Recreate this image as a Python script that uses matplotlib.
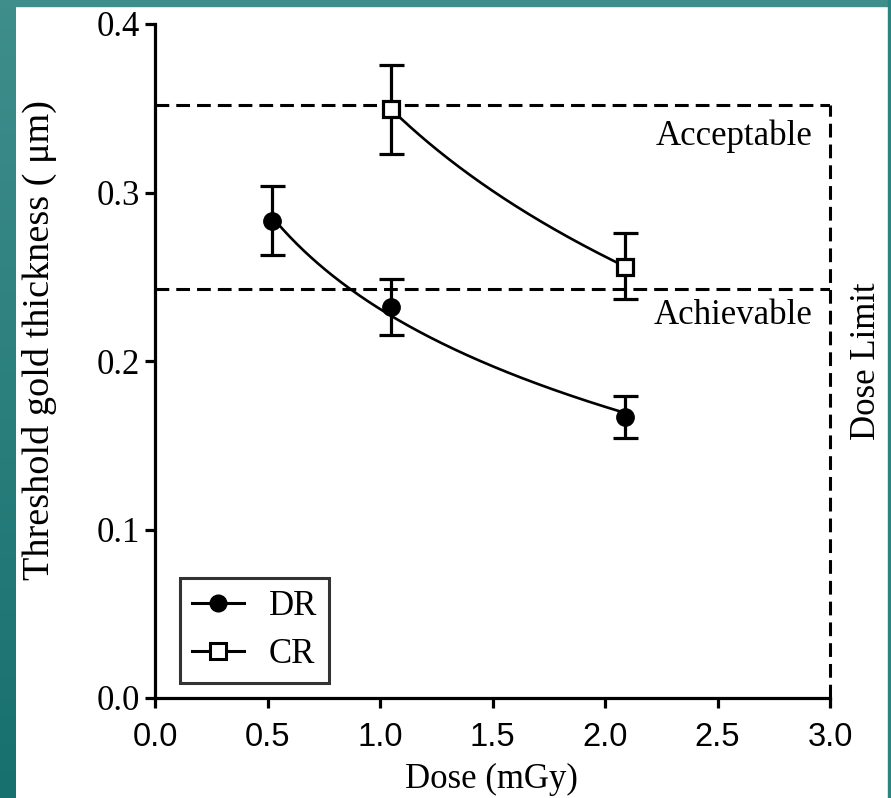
import numpy as np
import matplotlib
matplotlib.use("Agg")
import matplotlib.pyplot as plt
from matplotlib.lines import Line2D

# datos
dosis_dr = [0.52, 1.05, 2.09]
grosor_dr = [0.283, 0.232, 0.1665]
err_dr_sup = [0.304, 0.2485, 0.179]
err_dr_inf = [0.263, 0.2155, 0.1545]

dosis_cr = [1.05, 2.09]
grosor_cr = [0.3494, 0.256]
err_cr_sup = [0.3755, 0.276]
err_cr_inf = [0.3226, 0.2366]

nivel_aceptable = 0.352
nivel_alcanzable = 0.243
limite_dosis = 3.0

serif = "Liberation Serif"
sans = "Liberation Sans"

fig = plt.figure(figsize=(8.91, 7.98), dpi=100, facecolor="white")

# borde verde azulado (degradado a la izquierda)
borde = fig.add_axes([0, 0, 16 / 891, 1])
grad = np.linspace(0, 1, 256).reshape(-1, 1)
cmap = matplotlib.colors.LinearSegmentedColormap.from_list("t", ["#3f8e8c", "#17706e"])
borde.imshow(grad, aspect="auto", cmap=cmap, extent=[0, 1, 0, 1], origin="upper")
borde.axis("off")
fig.patches.append(plt.Rectangle((0, 1 - 6 / 798), 1, 6 / 798, transform=fig.transFigure,
                                 color="#3f8e8c", zorder=0))
fig.patches.append(plt.Rectangle((888 / 891, 0), 3 / 891, 1, transform=fig.transFigure,
                                 color="#2a8481", zorder=0))

ax = fig.add_axes([155 / 891, 1 - 698 / 798, 675 / 891, 674 / 798])
ax.set_xlim(0, 3.0)
ax.set_ylim(0, 0.4)

# curvas de ajuste logaritmico y = a + b ln(x)
b, a = np.polyfit(np.log(dosis_dr), grosor_dr, 1)
xs = np.linspace(dosis_dr[0], dosis_dr[-1], 200)
ax.plot(xs, a + b * np.log(xs), color="black", lw=1.9, zorder=3)
b, a = np.polyfit(np.log(dosis_cr), grosor_cr, 1)
xs = np.linspace(dosis_cr[0], dosis_cr[-1], 200)
ax.plot(xs, a + b * np.log(xs), color="black", lw=1.9, zorder=3)

yerr_dr = [np.array(grosor_dr) - np.array(err_dr_inf), np.array(err_dr_sup) - np.array(grosor_dr)]
yerr_cr = [np.array(grosor_cr) - np.array(err_cr_inf), np.array(err_cr_sup) - np.array(grosor_cr)]
ax.errorbar(dosis_dr, grosor_dr, yerr=yerr_dr, fmt="o", color="black", ms=12.5,
            elinewidth=2.3, capsize=9, capthick=2.3, zorder=4)
ax.errorbar(dosis_cr, grosor_cr, yerr=yerr_cr, fmt="s", color="black", mfc="white",
            mew=2.3, ms=12, elinewidth=2.3, capsize=9, capthick=2.3, zorder=4)

# lineas de referencia
guion = (0, (4.5, 2.3))
ax.plot([0, limite_dosis], [nivel_aceptable, nivel_aceptable], color="black", lw=2.2, ls=guion, zorder=2)
ax.plot([0, limite_dosis], [nivel_alcanzable, nivel_alcanzable], color="black", lw=2.2, ls=guion, zorder=2)
ax.plot([limite_dosis, limite_dosis], [0, nivel_aceptable], color="black", lw=2.2, ls=guion,
        zorder=2, clip_on=False)

ax.text(2.92, 0.3336, "Acceptable", ha="right", va="center", fontsize=25, family=serif)
ax.text(2.92, 0.227, "Achievable", ha="right", va="center", fontsize=25, family=serif)
ax.text(3.164, 0.20, "Dose Limit", ha="center", va="center", rotation=90, fontsize=25,
        family=serif, clip_on=False)

for lado in ["top", "right"]:
    ax.spines[lado].set_visible(False)
for lado in ["left", "bottom"]:
    ax.spines[lado].set_linewidth(2.3)

ax.set_xticks([0.0, 0.5, 1.0, 1.5, 2.0, 2.5, 3.0])
ax.set_yticks([0.0, 0.1, 0.2, 0.3, 0.4])
ax.tick_params(width=2.3, length=7, direction="out", pad=4)
ax.tick_params(axis="x", pad=10)
ax.set_xticklabels(["0.0", "0.5", "1.0", "1.5", "2.0", "2.5", "3.0"], family=sans, fontsize=23.5)
ax.set_yticklabels(["0.0", "0.1", "0.2", "0.3", "0.4"], family=serif, fontsize=25)

ax.set_xlabel("Dose (mGy)", family=serif, fontsize=25)
ax.set_ylabel("Threshold gold thickness ( \u03bcm)", family=serif, fontsize=27.5)
ax.xaxis.set_label_coords(0.498, -0.096)
ax.yaxis.set_label_coords(-0.145, 0.531)

h_dr = Line2D([], [], color="black", marker="o", ms=12, lw=2.2)
h_cr = Line2D([], [], color="black", marker="s", mfc="white", mew=2.2, ms=11, lw=2.2)
leg = ax.legend([h_dr, h_cr], ["DR", "CR"], loc="lower left", bbox_to_anchor=(0.037, 0.022),
                prop={"family": serif, "size": 25}, frameon=True, fancybox=False,
                edgecolor="black", handlelength=1.5, handletextpad=0.7, borderpad=0.35,
                labelspacing=0.42, borderaxespad=0)
leg.get_frame().set_linewidth(2.2)

fig.savefig("out.png", dpi=100, facecolor="white")
